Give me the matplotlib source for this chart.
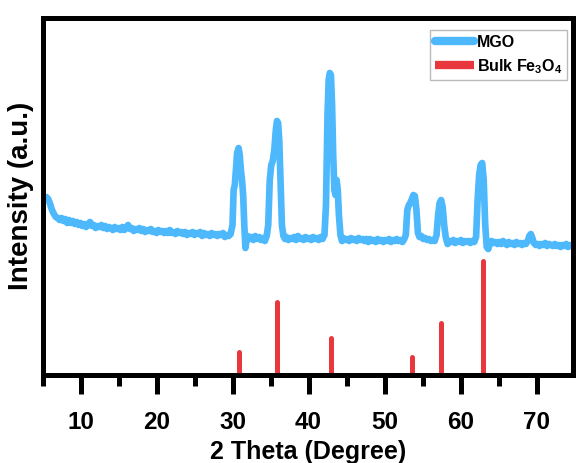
import matplotlib
matplotlib.use('Agg')
import matplotlib.pyplot as plt

plt.rcParams['font.family'] = 'Liberation Sans'
plt.rcParams['font.weight'] = 'bold'
plt.rcParams['mathtext.fontset'] = 'custom'
plt.rcParams['mathtext.rm'] = 'Liberation Sans:bold'
plt.rcParams['mathtext.default'] = 'rm'

# --- MGO pattern (rows of 10) ---
mgo_2theta = [5.0, 5.25, 5.5, 5.75, 6.0, 6.25, 6.5, 6.75, 7.0, 7.25,
              7.5, 7.75, 8.0, 8.25, 8.5, 8.75, 9.0, 9.25, 9.5, 9.75,
              10.0, 10.25, 10.5, 10.75, 11.0, 11.25, 11.5, 11.75, 12.0, 12.25,
              12.5, 12.75, 13.0, 13.25, 13.5, 13.75, 14.0, 14.25, 14.5, 14.75,
              15.0, 15.25, 15.5, 15.75, 16.0, 16.25, 16.5, 16.75, 17.0, 17.25,
              17.5, 17.75, 18.0, 18.25, 18.5, 18.75, 19.0, 19.25, 19.5, 19.75,
              20.0, 20.25, 20.5, 20.75, 21.0, 21.25, 21.5, 21.75, 22.0, 22.25,
              22.5, 22.75, 23.0, 23.25, 23.5, 23.75, 24.0, 24.25, 24.5, 24.75,
              25.0, 25.25, 25.5, 25.75, 26.0, 26.25, 26.5, 26.75, 27.0, 27.25,
              27.5, 27.75, 28.0, 28.25, 28.5, 28.75, 29.0, 29.25, 29.5, 29.75,
              30.0, 30.15, 30.3, 30.45, 30.6, 30.8, 30.95, 31.1, 31.25, 31.4,
              31.55, 31.7, 31.85, 32.0, 32.25, 32.5, 32.75, 33.0, 33.25, 33.5,
              33.75, 34.0, 34.25, 34.5, 34.7, 34.9, 35.1, 35.3, 35.5, 35.7,
              35.85, 36.0, 36.15, 36.3, 36.5, 36.7, 36.9, 37.1, 37.35, 37.6,
              37.85, 38.1, 38.35, 38.6, 38.85, 39.1, 39.35, 39.6, 39.85, 40.1,
              40.35, 40.6, 40.85, 41.1, 41.35, 41.6, 41.85, 42.1, 42.3, 42.5,
              42.65, 42.8, 42.95, 43.1, 43.25, 43.4, 43.55, 43.7, 43.85, 44.0,
              44.2, 44.4, 44.6, 44.85, 45.1, 45.35, 45.6, 45.85, 46.1, 46.35,
              46.6, 46.85, 47.1, 47.35, 47.6, 47.85, 48.1, 48.35, 48.6, 48.85,
              49.1, 49.35, 49.6, 49.85, 50.1, 50.35, 50.6, 50.85, 51.1, 51.35,
              51.6, 51.85, 52.1, 52.35, 52.6, 52.8, 53.0, 53.2, 53.4, 53.6,
              53.8, 54.0, 54.2, 54.4, 54.6, 54.85, 55.1, 55.35, 55.6, 55.85,
              56.1, 56.35, 56.6, 56.85, 57.05, 57.25, 57.45, 57.65, 57.85, 58.05,
              58.3, 58.55, 58.8, 59.05, 59.3, 59.55, 59.8, 60.05, 60.3, 60.55,
              60.8, 61.05, 61.3, 61.55, 61.8, 62.05, 62.25, 62.45, 62.65, 62.85,
              63.05, 63.25, 63.45, 63.65, 63.85, 64.1, 64.35, 64.6, 64.85, 65.1,
              65.35, 65.6, 65.85, 66.1, 66.35, 66.6, 66.85, 67.1, 67.35, 67.6,
              67.85, 68.1, 68.35, 68.6, 68.85, 69.05, 69.25, 69.45, 69.65, 69.9,
              70.15, 70.4, 70.65, 70.9, 71.15, 71.4, 71.65, 71.9, 72.15, 72.4,
              72.65, 72.9, 73.15, 73.4, 73.65, 73.9, 74.15, 74.4, 74.65, 74.9]
mgo_int = [174, 177, 178, 176, 171, 165, 161, 158, 157, 155,
           157, 154, 156, 152, 155, 152, 154, 151, 153, 150,
           152, 149, 151, 148, 151, 153, 149, 150, 147, 149,
           148, 150, 147, 149, 146, 148, 147, 145, 148, 146,
           147, 145, 148, 145, 147, 150, 146, 147, 144, 146,
           145, 147, 144, 146, 143, 145, 144, 146, 143, 144,
           142, 145, 143, 144, 142, 144, 142, 145, 142, 143,
           141, 144, 142, 143, 141, 143, 140, 142, 141, 143,
           140, 142, 141, 143, 139, 142, 140, 141, 139, 142,
           140, 141, 139, 141, 140, 142, 138, 140, 139, 141,
           150, 185, 190, 205, 222, 227, 220, 205, 195, 180,
           150, 127, 135, 139, 136, 138, 135, 139, 136, 138,
           135, 137, 134, 139, 150, 195, 210, 214, 225, 245,
           254, 252, 235, 200, 150, 139, 136, 138, 135, 137,
           136, 138, 135, 139, 136, 137, 135, 138, 136, 137,
           135, 138, 136, 137, 135, 138, 136, 140, 170, 260,
           295, 302, 300, 270, 220, 185, 180, 195, 185, 160,
           140, 134, 137, 135, 136, 134, 137, 135, 136, 134,
           137, 135, 136, 134, 136, 133, 136, 134, 135, 133,
           136, 134, 135, 133, 135, 134, 136, 133, 135, 134,
           136, 134, 135, 133, 136, 140, 165, 170, 172, 176,
           180, 179, 165, 142, 138, 139, 136, 137, 135, 136,
           134, 135, 134, 140, 160, 172, 175, 168, 150, 138,
           131, 134, 133, 135, 132, 134, 133, 135, 132, 134,
           133, 134, 132, 134, 133, 138, 175, 200, 210, 212,
           195, 150, 128, 126, 131, 134, 132, 133, 131, 133,
           131, 134, 132, 130, 133, 131, 132, 130, 133, 131,
           132, 130, 132, 131, 134, 139, 141, 137, 132, 130,
           131, 129, 131, 130, 132, 129, 131, 130, 129, 131,
           129, 130, 128, 130, 129, 131, 128, 130, 129, 130]

# --- Bulk Fe3O4 reference lines ---
ref_2theta = [30.8, 35.8, 43.0, 53.6, 57.4, 62.9]
ref_int = [23, 73, 37, 18, 52, 114]

fig = plt.figure(figsize=(5.76, 4.63), dpi=100)
ax = fig.add_axes([42.5 / 576, 88 / 463, 530.5 / 576, 357.5 / 463])

ax.plot(mgo_2theta, mgo_int, color='#4db8fc', lw=4.8, label='MGO',
        solid_joinstyle='round', solid_capstyle='round')
ax.vlines(ref_2theta, 0, ref_int, color='#e8383d', lw=3.6, capstyle='round',
          label='Bulk Fe$_3$O$_4$')

ax.set_xlim(5.07, 74.8)
ax.set_ylim(0, 357.5)
ax.set_xticks([10, 20, 30, 40, 50, 60, 70])
ax.set_xticks([5, 15, 25, 35, 45, 55, 65], minor=True)
ax.set_yticks([])
ax.tick_params(axis='x', which='major', direction='out', length=14, width=3.6,
               labelsize=17.5, pad=12)
ax.tick_params(axis='x', which='minor', direction='out', length=8, width=3.6)
for s in ax.spines.values():
    s.set_linewidth(3.6)
    s.set_zorder(5)

ax.set_xlabel('2 Theta (Degree)', fontsize=18, fontweight='bold', labelpad=4)
ax.set_ylabel('Intensity (a.u.)', fontsize=20, fontweight='bold', labelpad=6)

leg = ax.legend(loc='upper right', bbox_to_anchor=(567 / 576, 433 / 463),
                bbox_transform=fig.transFigure, borderaxespad=0, fontsize=11.5,
                handlelength=2.5, handletextpad=0.15, labelspacing=0.45,
                borderpad=0.3, frameon=True, fancybox=False, edgecolor='#aaaaaa')
leg.get_frame().set_linewidth(1)
for h in leg.legend_handles:
    h.set_linewidth(6)
    try:
        h.set_capstyle('round')
    except AttributeError:
        h.set_solid_capstyle('round')

fig.savefig('out.png', dpi=100)
